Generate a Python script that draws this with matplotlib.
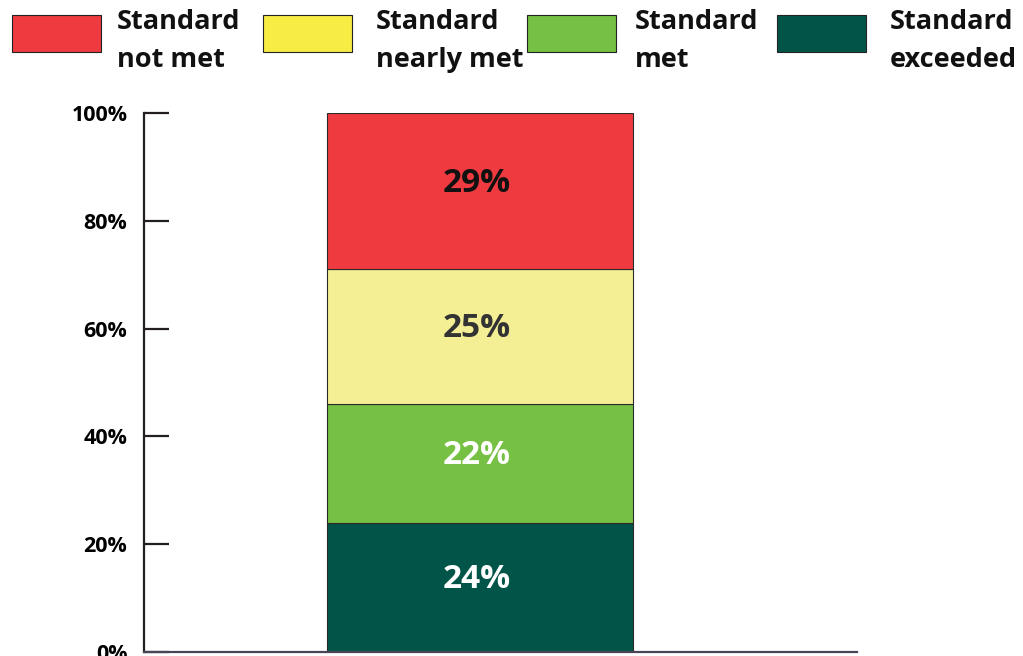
import matplotlib.pyplot as plt
from matplotlib.patches import Rectangle

# data
categories = ["Standard\nnot met", "Standard\nnearly met", "Standard\nmet", "Standard\nexceeded"]
values = [29, 25, 22, 24]          # percent, top to bottom as drawn
legend_colors = ["#EF3A3F", "#F6EC43", "#76C044", "#015548"]
bar_colors = ["#EF3A3F", "#F4EF95", "#76C044", "#015548"]
label_colors = ["#111111", "#333333", "white", "white"]
yticks = [0, 20, 40, 60, 80, 100]
ytick_labels = ["0%", "20%", "40%", "60%", "80%", "100%"]

plt.rcParams['font.family'] = ['Open Sans', 'DejaVu Sans']

fig = plt.figure(figsize=(10.23, 6.56), dpi=100, facecolor='white')
W, H = 1023, 656
ax = fig.add_axes([144 / W, 4 / H, (857 - 144) / W, (652 - 113) / H])

# stack from the bottom: exceeded, met, nearly met, not met
bottom = 0
for val, col, lc in zip(values[::-1], bar_colors[::-1], label_colors[::-1]):
    ax.bar(0.471, val, width=0.429, bottom=bottom, color=col,
           edgecolor='#2a2a2a', linewidth=0.8, zorder=2)
    # labels sit a little above the middle of each block
    ax.text(0.466, bottom + val / 2 + 1.5, f"{val}%", ha='center', va='center',
            fontsize=24, fontweight='bold', color=lc, zorder=3)
    bottom += val

ax.set_xlim(0, 1)
ax.set_ylim(0, 100)
ax.set_xticks([])
ax.set_yticks(yticks)
ax.set_yticklabels(ytick_labels)
ax.tick_params(axis='y', direction='in', length=18, width=1.6, color='#231F20',
               pad=12, labelsize=15.5)
for lab in ax.get_yticklabels():
    lab.set_fontweight('bold')
for s in ['top', 'right']:
    ax.spines[s].set_visible(False)
ax.spines['left'].set_linewidth(1.6)
ax.spines['left'].set_color('#231F20')
ax.spines['bottom'].set_linewidth(1.6)
ax.spines['bottom'].set_color('#4a4556')

# manual legend across the top
patch_x = [12, 263, 527, 777]
text_x = [117, 376, 635, 890]
for px, tx, col, name in zip(patch_x, text_x, legend_colors, categories):
    fig.patches.append(Rectangle((px / W, 1 - 52 / H), 89 / W, 37 / H,
                                 transform=fig.transFigure, facecolor=col,
                                 edgecolor='#222222', linewidth=0.8))
    fig.text(tx / W, 1 - 9 / H, name, ha='left', va='top', fontsize=19.5,
             fontweight='bold', color='#111111', linespacing=1.62)

fig.savefig('out.png', dpi=100)
